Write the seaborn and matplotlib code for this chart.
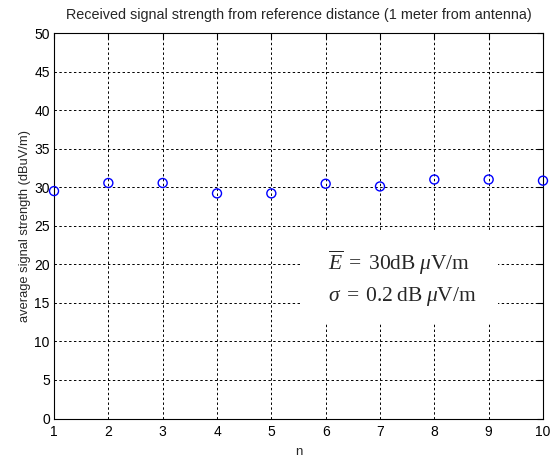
import numpy as np
import pandas as pd
import matplotlib
matplotlib.use("Agg")
import matplotlib.pyplot as plt
import seaborn as sns
from matplotlib.patches import Rectangle

# Measurement index and the average received level at 1 m
n_values = [1, 2, 3, 4, 5, 6, 7, 8, 9, 10]
strength_dbuv = [29.5, 30.55, 30.55, 29.2, 29.2, 30.45, 30.1, 31.0, 31.0, 30.85]
x_ticks = [1, 2, 3, 4, 5, 6, 7, 8, 9, 10]
y_ticks = [0, 5, 10, 15, 20, 25, 30, 35, 40, 45, 50]

df = pd.DataFrame({"n": n_values, "strength": strength_dbuv})

sns.set_style("white")
plt.rcParams["font.family"] = ["Liberation Sans", "DejaVu Sans"]
plt.rcParams["mathtext.fontset"] = "custom"
plt.rcParams["mathtext.rm"] = "Liberation Serif"
plt.rcParams["mathtext.it"] = "Liberation Serif:italic"
plt.rcParams["mathtext.bf"] = "Liberation Serif:bold"

fig = plt.figure(figsize=(5.58, 4.58), dpi=100)
ax = fig.add_axes([0.0968, 0.0862, 0.8763, 0.8417])

sns.scatterplot(data=df, x="n", y="strength", ax=ax, marker="o",
                facecolor="none", edgecolor="#0000ff", linewidth=1.0,
                s=42, zorder=3, legend=False, clip_on=False)

ax.set_xlim(1, 10)
ax.set_ylim(0, 50)
ax.set_xticks(x_ticks)
ax.set_yticks(y_ticks)
ax.tick_params(direction="in", length=4, width=0.8, top=True, right=True,
               labelsize=10, colors="black", pad=3)
ax.tick_params(axis="x", pad=5)
for s in ax.spines.values():
    s.set_visible(True)
    s.set_color("black")
    s.set_linewidth(0.8)

ax.set_axisbelow(True)
ax.grid(True, color="black", linestyle=(0, (2.5, 2.5)), linewidth=0.7)

ax.set_xlabel("n", fontsize=9.5, labelpad=4.5)
ax.set_ylabel("average signal strength (dBuV/m)", fontsize=9.3, labelpad=2)
ax.set_title("Received signal strength from reference distance (1 meter from antenna)",
             fontsize=10.4, pad=10)

# white panel behind the summary statistics
ax.add_patch(Rectangle((0.506, 0.248), 0.403, 0.235, transform=ax.transAxes,
                       facecolor="white", edgecolor="none", zorder=1))
ax.text(0.561, 0.404, r"$\overline{E}\;=\;30\mathrm{dB}\;\mu\mathrm{V/m}$",
        transform=ax.transAxes, fontsize=15.5, va="center", ha="left", zorder=2)
ax.text(0.561, 0.316, r"$\sigma\;=\;0.2\;\mathrm{dB}\;\mu\mathrm{V/m}$",
        transform=ax.transAxes, fontsize=15.5, va="center", ha="left", zorder=2)

fig.savefig("out.png", dpi=100, facecolor="white")
